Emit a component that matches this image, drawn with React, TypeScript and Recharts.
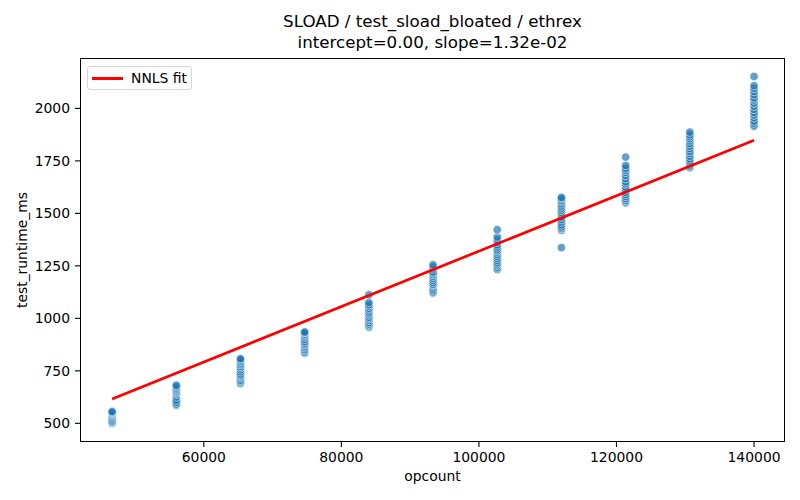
import React from "react";
import { Scatter, ScatterChart, XAxis, YAxis } from "recharts";

// opcount of each run group and the runtimes measured at it (ms)
const OPCOUNTS = [46667, 56000, 65333, 74667, 84000, 93333, 102667, 112000, 121333, 130667, 140000];

const RUNS_46667 = [498, 500, 502, 504, 507, 512, 520, 528, 535, 540, 545, 548, 552, 556];
const RUNS_56000 = [585, 588, 592, 600, 610, 625, 638, 645, 650, 655, 662, 668, 675, 681];
const RUNS_65333 = [690, 698, 705, 715, 722, 728, 735, 745, 755, 765, 772, 780, 787, 795, 802, 808];
const RUNS_74667 = [833, 838, 845, 852, 860, 868, 875, 882, 890, 900, 910, 918, 925, 932, 935];
const RUNS_84000 = [958, 965, 972, 980, 990, 998, 1005, 1015, 1022, 1030, 1040, 1048, 1058, 1065, 1075, 1112];
const RUNS_93333 = [1120, 1125, 1132, 1140, 1150, 1158, 1162, 1170, 1180, 1190, 1200, 1208, 1215, 1222, 1235, 1245, 1255];
const RUNS_102667 = [1232, 1240, 1250, 1258, 1265, 1275, 1285, 1295, 1305, 1315, 1322, 1330, 1340, 1350, 1362, 1375, 1387, 1422];
const RUNS_112000 = [1337, 1420, 1428, 1435, 1445, 1458, 1470, 1482, 1495, 1505, 1515, 1525, 1535, 1545, 1555, 1562, 1570, 1576];
const RUNS_121333 = [1549, 1555, 1562, 1570, 1580, 1590, 1600, 1612, 1625, 1640, 1650, 1665, 1680, 1695, 1705, 1715, 1728, 1768];
const RUNS_130667 = [1717, 1722, 1730, 1740, 1750, 1760, 1772, 1785, 1795, 1808, 1820, 1832, 1845, 1855, 1865, 1875, 1887];
const RUNS_140000 = [1914, 1920, 1930, 1940, 1955, 1968, 1980, 1995, 2010, 2025, 2040, 2050, 2065, 2080, 2095, 2108, 2152];

const RUNS = [
  RUNS_46667, RUNS_56000, RUNS_65333, RUNS_74667, RUNS_84000, RUNS_93333,
  RUNS_102667, RUNS_112000, RUNS_121333, RUNS_130667, RUNS_140000,
];

// NNLS fit: runtime = intercept + slope * opcount
const INTERCEPT = 0;
const SLOPE = 1.32e-2;
const FIT_X = [46667, 140000];

const X_TICKS = [60000, 80000, 100000, 120000, 140000];
const Y_TICKS = [500, 750, 1000, 1250, 1500, 1750, 2000];

const points = OPCOUNTS.flatMap((x, i) => RUNS[i].map((y) => ({ x, y })));
const fit = FIT_X.map((x) => ({ x, y: INTERCEPT + SLOPE * x }));

const FONT = "'DejaVu Sans', sans-serif";
const tick = { fontSize: 13.9, fill: "#000", fontFamily: FONT };

function Dot(p: any) {
  return (
    <circle
      cx={p.cx}
      cy={p.cy}
      r={4.2}
      fill="#1f77b4"
      fillOpacity={0.7}
      stroke="#fff"
      strokeWidth={0.6}
    />
  );
}

export default function App() {
  return (
    <div
      style={{
        position: "absolute",
        left: 0,
        top: 0,
        width: 800,
        height: 500,
        background: "#fff",
        fontFamily: FONT,
        color: "#000",
      }}
    >
      <div style={{ position: "absolute", left: 0, width: 865, top: 11, textAlign: "center", fontSize: 16.7, lineHeight: "21px" }}>
        SLOAD / test_sload_bloated / ethrex
        <br />
        intercept=0.00, slope=1.32e-02
      </div>

      <ScatterChart width={800} height={500} margin={{ top: 58, right: 15, bottom: 0, left: 20 }}>
        <XAxis
          type="number"
          dataKey="x"
          domain={[42000, 144500]}
          ticks={X_TICKS}
          tick={tick}
          tickSize={5}
          tickMargin={5}
          axisLine={false}
          tickLine={{ stroke: "#000", strokeWidth: 1.1 }}
          height={58}
          allowDataOverflow
        />
        <YAxis
          type="number"
          dataKey="y"
          domain={[411, 2240]}
          ticks={Y_TICKS}
          tick={tick}
          tickSize={5}
          tickMargin={5}
          axisLine={false}
          tickLine={{ stroke: "#000", strokeWidth: 1.1 }}
          width={60}
          allowDataOverflow
        />
        <Scatter data={points} shape={Dot} isAnimationActive={false} />
        <Scatter
          data={fit}
          line={{ stroke: "#ff0000", strokeWidth: 2.7 }}
          shape={() => <g />}
          isAnimationActive={false}
        />
      </ScatterChart>

      {/* axes frame */}
      <div
        style={{
          position: "absolute",
          left: 79.5,
          top: 57.5,
          width: 705,
          height: 384,
          border: "1.1px solid #000",
          boxSizing: "border-box",
          pointerEvents: "none",
        }}
      />

      <div style={{ position: "absolute", left: 0, width: 865, top: 468, textAlign: "center", fontSize: 13.9 }}>
        opcount
      </div>
      <div
        style={{
          position: "absolute",
          left: 22,
          top: 250,
          fontSize: 13.9,
          whiteSpace: "nowrap",
          transform: "translate(-50%, -50%) rotate(-90deg)",
        }}
      >
        test_runtime_ms
      </div>

      {/* legend */}
      <div
        style={{
          position: "absolute",
          left: 87,
          top: 66,
          width: 105,
          height: 24,
          border: "1px solid #d6d6d6",
          borderRadius: 3,
          boxSizing: "border-box",
          background: "rgba(255,255,255,0.8)",
        }}
      >
        <div style={{ position: "absolute", left: 4, top: 10, width: 31, height: 2.7, background: "#ff0000" }} />
        <div style={{ position: "absolute", left: 43, top: 2, fontSize: 13.9, lineHeight: "18px" }}>NNLS fit</div>
      </div>
    </div>
  );
}
